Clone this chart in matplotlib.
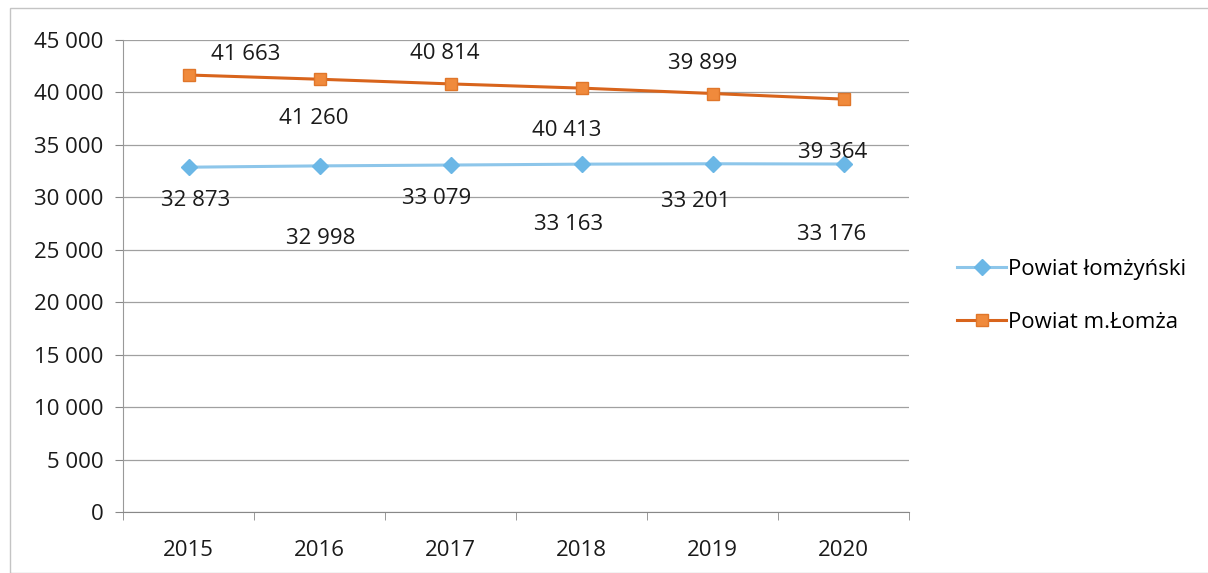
import matplotlib
matplotlib.use("Agg")
import matplotlib.pyplot as plt
from matplotlib.patches import Rectangle

years = ["2015", "2016", "2017", "2018", "2019", "2020"]
lomzynski = [32873, 32998, 33079, 33163, 33201, 33176]
lomza = [41663, 41260, 40814, 40413, 39899, 39364]
yticks = [0, 5000, 10000, 15000, 20000, 25000, 30000, 35000, 40000, 45000]
ytick_labels = ["0", "5 000", "10 000", "15 000", "20 000", "25 000", "30 000", "35 000", "40 000", "45 000"]
name_lomzynski = "Powiat łomżyński"
name_lomza = "Powiat m.Łomża"

# label offsets in pixels (dx, dy) for the manually placed data labels
off_lomzynski = [(7, -33), (1, -73), (-14, -33), (-13, -60), (-17, -38), (-12, -70)]
off_lomza = [(57, 21), (-6, -39), (-6, 30), (-15, -42), (-10, 30), (-11, -53)]

def fmt(v):
    return f"{v:,}".replace(",", " ")

plt.rcParams['font.family'] = ['Open Sans', 'DejaVu Sans']
FS = 16

fig = plt.figure(figsize=(12.08, 5.73), dpi=100)
fig.patches.append(Rectangle((10/1208, 0.0), 1.2, 1 - 8/573, transform=fig.transFigure,
                             fill=False, edgecolor='#c4c4c4', linewidth=1.0))
ax = fig.add_axes([123/1208, 1 - 512/573, 786/1208, 472/573])

x = list(range(len(years)))
ax.plot(x, lomzynski, color='#8DC6EA', linewidth=2.2, marker='D', markersize=8,
        markerfacecolor='#6BB7E6', markeredgecolor='#6BB7E6', label=name_lomzynski, zorder=3)
ax.plot(x, lomza, color='#D8641C', linewidth=2.2, marker='s', markersize=9,
        markerfacecolor='#F08A3C', markeredgecolor='#E0762A', label=name_lomza, zorder=3)

for i, v in enumerate(lomzynski):
    dx, dy = off_lomzynski[i]
    ax.annotate(fmt(v), (x[i], v), xytext=(dx * 0.72, dy * 0.72), textcoords='offset points',
                ha='center', va='center', fontsize=FS, color='#1a1a1a')
for i, v in enumerate(lomza):
    dx, dy = off_lomza[i]
    ax.annotate(fmt(v), (x[i], v), xytext=(dx * 0.72, dy * 0.72), textcoords='offset points',
                ha='center', va='center', fontsize=FS, color='#1a1a1a')

ax.set_xlim(-0.5, len(years) - 0.5)
ax.set_ylim(0, 45000)
ax.set_yticks(yticks)
ax.set_yticklabels(ytick_labels, fontsize=FS, color='#1a1a1a')
ax.set_xticks(x)
ax.set_xticklabels(years, fontsize=FS, color='#1a1a1a')
ax.set_xticks([i - 0.5 for i in range(len(years) + 1)], minor=True)
ax.tick_params(axis='x', which='major', length=0, pad=20)
ax.tick_params(axis='x', which='minor', length=6, color='#888888', direction='out')
ax.tick_params(axis='y', length=6, color='#888888', pad=8)
ax.grid(axis='y', color='#a0a0a0', linewidth=0.9)
ax.set_axisbelow(True)
for s in ['top', 'right']:
    ax.spines[s].set_visible(False)
ax.spines['left'].set_color('#999999')
ax.spines['bottom'].set_color('#888888')

ax.legend(loc='center left', bbox_to_anchor=(1.036, 0.458), frameon=False, fontsize=FS,
          handlelength=2.2, labelspacing=1.45, handletextpad=0.1)

fig.savefig("out.png", dpi=100)
